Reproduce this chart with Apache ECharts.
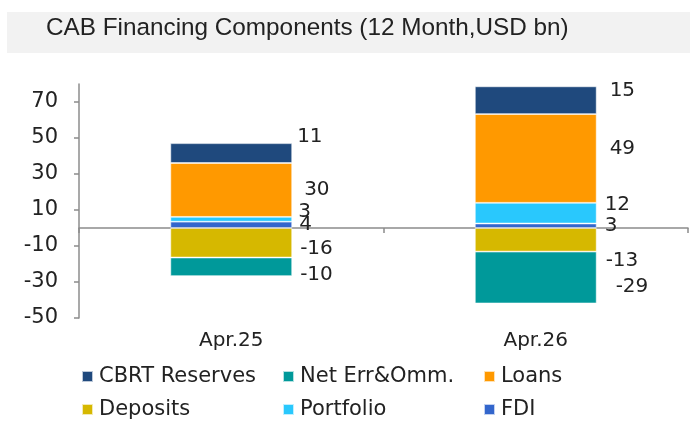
<!DOCTYPE html>
<html>
<head>
<meta charset="utf-8">
<script src="https://cdn.jsdelivr.net/npm/echarts@6/dist/echarts.min.js"></script>
<style>
  html, body { margin: 0; padding: 0; background: #fff; }
  #chart { width: 690px; height: 428px; }
</style>
</head>
<body>
<div id="chart"></div>
<script>
const categories = ['Apr.25', 'Apr.26'];

const fdi = [3.5, 2.5];
const portfolio = [2.7, 11.5];
const loans = [29.9, 49.3];
const cbrtReserves = [11.0, 15.4];
const deposits = [-16.4, -13.1];
const netErr = [-10.3, -28.8];

const yTicks = [-50, -30, -10, 10, 30, 50, 70];

// label nudges [dx, dy] per category, so labels sit like the original
const labelNudge = {
  'FDI': [[2, 0], [3, 0]],
  'Portfolio': [[1, -7], [3, -8]],
  'Loans': [[7, 0], [8, -10]],
  'CBRT Reserves': [[0, -16], [8, -9]],
  'Deposits': [[3, 6], [4, 21]],
  'Net Err&Omm.': [[3, 8], [14, 9]]
};

const colors = {
  'CBRT Reserves': '#1f497d',
  'Net Err&Omm.': '#00999a',
  'Loans': '#ff9900',
  'Deposits': '#d6b800',
  'Portfolio': '#29c8fd',
  'FDI': '#3366cc'
};

const stackOrder = [
  ['FDI', fdi],
  ['Portfolio', portfolio],
  ['Loans', loans],
  ['CBRT Reserves', cbrtReserves],
  ['Deposits', deposits],
  ['Net Err&Omm.', netErr]
];

const labelFont = 'DejaVu Sans';

const chart = echarts.init(document.getElementById('chart'));

const series = stackOrder.map(([name, values]) => ({
  name: name,
  type: 'bar',
  stack: 'total',
  barWidth: '40%',
  itemStyle: {
    color: colors[name],
    borderColor: 'rgba(255,255,255,0.7)',
    borderWidth: 0.8
  },
  data: values.map((v, i) => ({
    value: v,
    label: { offset: labelNudge[name][i] }
  })),
  label: {
    show: true,
    position: 'right',
    distance: 5,
    color: '#222',
    fontFamily: labelFont,
    fontSize: 20,
    formatter: (p) => String(Math.round(p.value))
  }
}));

const option = {
  animation: false,
  graphic: [{
    type: 'rect',
    shape: { x: 7, y: 12, width: 683, height: 41 },
    style: { fill: '#f2f2f2' },
    z: -1
  }],
  title: {
    text: 'CAB Financing Components (12 Month,USD bn)',
    left: 46,
    top: 15,
    padding: 0,
    textStyle: {
      fontFamily: 'Liberation Sans',
      fontWeight: 'normal',
      fontSize: 24.3,
      lineHeight: 26,
      color: '#222'
    }
  },
  legend: {
    data: ['CBRT Reserves', 'Net Err&Omm.', 'Loans', 'Deposits', 'Portfolio', 'FDI'],
    left: 81,
    top: 365,
    width: 600,
    padding: 0,
    itemGap: 10,
    itemWidth: 11,
    itemHeight: 11,
    icon: 'rect',
    textStyle: {
      fontFamily: labelFont,
      fontSize: 21,
      lineHeight: 23,
      color: '#222',
      width: 173,
      padding: [0, 0, 0, 1]
    }
  },
  grid: {
    left: 79,
    right: 2,
    top: 84,
    bottom: 110,
    containLabel: false
  },
  xAxis: [{
    type: 'category',
    data: categories,
    axisLine: { onZero: true, lineStyle: { color: '#8c8c8c', width: 1.5 } },
    axisTick: { show: true, length: 5, lineStyle: { color: '#8c8c8c', width: 1.5 } },
    axisLabel: { show: false }
  }, {
    type: 'category',
    data: categories,
    position: 'bottom',
    axisLine: { show: false, onZero: false },
    axisTick: { show: false },
    axisLabel: {
      margin: 13,
      color: '#222',
      fontFamily: labelFont,
      fontSize: 20
    }
  }],
  yAxis: {
    type: 'value',
    min: -50,
    max: 80,
    interval: 10,
    splitLine: { show: false },
    axisLine: { show: true, lineStyle: { color: '#8c8c8c', width: 1.5 } },
    axisTick: { show: true, length: 5, customValues: yTicks, lineStyle: { color: '#8c8c8c', width: 1.5 } },
    axisLabel: {
      customValues: yTicks,
      margin: 21,
      color: '#222',
      fontFamily: labelFont,
      fontSize: 21
    }
  },
  series: series
};

chart.setOption(option);
</script>
</body>
</html>
